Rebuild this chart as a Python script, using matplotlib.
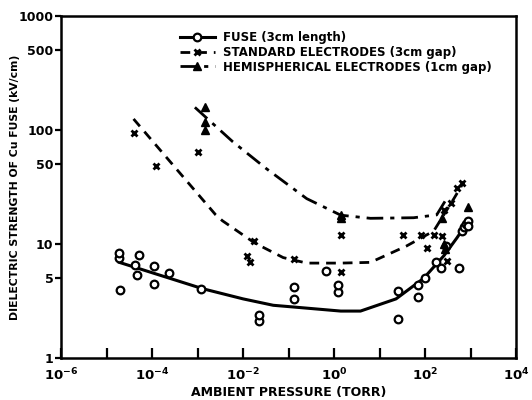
import matplotlib
matplotlib.use('Agg')
import matplotlib.pyplot as plt
from matplotlib.ticker import FixedLocator, NullFormatter, NullLocator

# Fuse (3 cm length) - open circles
fuse_p = [1.9e-5, 1.9e-5, 5.2e-5, 4.3e-5, 4.6e-5, 1.1e-4, 1.1e-4, 2.4e-4, 2.0e-5, 1.2e-3,
          2.2e-2, 2.2e-2, 0.13, 0.13, 0.65, 1.2, 1.2, 25, 25, 70, 70, 100, 170, 220,
          550, 290, 650, 700, 800, 900, 900]
fuse_e = [7.5, 8.3, 8.0, 6.6, 5.3, 6.4, 4.5, 5.6, 3.96, 4.0,
          2.1, 2.4, 4.2, 3.3, 5.8, 3.8, 4.4, 3.9, 2.2, 3.4, 4.4, 5.0, 6.9, 6.2,
          6.2, 9.6, 13, 14, 15, 16, 14.5]

# Standard electrodes (3 cm gap) - crosses
std_p = [3.9e-5, 1.2e-4, 1.0e-3, 1.7e-2, 1.2e-2, 1.4e-2, 0.13, 1.4, 1.4, 32, 80,
         110, 155, 235, 300, 370, 500, 650, 260]
std_e = [94, 48, 64, 10.6, 7.9, 7.0, 7.4, 5.7, 12, 12, 12,
         9.3, 12, 11.8, 7.1, 22.8, 31, 34, 20]

# Hemispherical electrodes (1 cm gap) - filled triangles
hemi_p = [1.45e-3, 1.45e-3, 1.45e-3, 1.4, 1.4, 235, 260, 270, 900]
hemi_e = [158, 118, 100, 18, 17, 17, 10, 9, 21]

# fitted curves
fuse_curve_p = [1.9e-5, 1.3e-3, 1e-2, 4.6e-2, 0.13, 1.4, 3.8, 23, 93, 260, 500, 830]
fuse_curve_e = [6.9, 4.05, 3.3, 2.9, 2.8, 2.58, 2.58, 3.3, 5.0, 7.9, 11.3, 15.2]
std_curve_p = [3.9e-5, 2.5e-3, 3.5e-3, 1.8e-2, 7.6e-2, 0.25, 1.4, 6.3, 39, 155, 430, 710]
std_curve_e = [125, 18, 16, 10.2, 7.6, 6.8, 6.8, 6.9, 9.6, 13, 25, 35]
hemi_curve_p = [8.7e-4, 5.9e-3, 3.2e-2, 0.25, 1.4, 6.3, 56, 180, 280]
hemi_curve_e = [158, 79, 46, 25, 17.9, 16.8, 17, 18, 24]

yticks = [1, 5, 10, 50, 100, 500, 1000]
xlabels = {1e-6: '10$^{-6}$', 1e-4: '10$^{-4}$', 1e-2: '10$^{-2}$',
           1e0: '10$^{0}$', 1e2: '10$^{2}$', 1e4: '10$^{4}$'}

plt.rcParams['font.family'] = ['Liberation Sans Narrow', 'DejaVu Sans']
plt.rcParams['font.weight'] = 'bold'
plt.rcParams['mathtext.fontset'] = 'custom'
plt.rcParams['mathtext.rm'] = 'Liberation Sans Narrow:bold'
plt.rcParams['mathtext.default'] = 'rm'

fig = plt.figure(figsize=(5.32, 4.0), dpi=100)
ax = fig.add_axes([0.115, 0.105, 0.855, 0.855])

ax.plot(fuse_curve_p, fuse_curve_e, '-', color='black', lw=2.2)
ax.plot(std_curve_p, std_curve_e, color='black', lw=2.0, dashes=(3.5, 2.5))
ax.plot(hemi_curve_p, hemi_curve_e, color='black', lw=2.0, dashes=(6, 2.5, 1.5, 2.5))

ax.plot(fuse_p, fuse_e, 'o', mfc='white', mec='black', mew=1.6, ms=5.5)
ax.plot(std_p, std_e, 'x', color='black', mew=2.0, ms=5)
ax.plot(hemi_p, hemi_e, '^', color='black', ms=6)

# legend proxies
h1, = ax.plot([], [], '-o', color='black', lw=2.2, mfc='white', mew=1.6, ms=5.5)
h2, = ax.plot([], [], 'x', color='black', lw=2.0, mew=2.0, ms=5, ls=(0, (3.5, 2.5)))
h3, = ax.plot([], [], '^', color='black', lw=2.0, ms=6, ls=(0, (6, 2.5, 1.5, 2.5)))
ax.legend([h1, h2, h3],
          ['FUSE (3cm length)', 'STANDARD ELECTRODES (3cm gap)',
           'HEMISPHERICAL ELECTRODES (1cm gap)'],
          loc='upper left', bbox_to_anchor=(0.25, 0.97), frameon=False,
          fontsize=8.5, handlelength=3.0, handletextpad=0.7, labelspacing=0.15,
          borderaxespad=0)

ax.set_xscale('log')
ax.set_yscale('log')
ax.set_xlim(1e-6, 1e4)
ax.set_ylim(1, 1000)

ax.xaxis.set_major_locator(FixedLocator([10.0 ** k for k in range(-6, 5)]))
ax.xaxis.set_minor_locator(NullLocator())
ax.set_xticklabels([xlabels.get(10.0 ** k, '') for k in range(-6, 5)])
ax.yaxis.set_major_locator(FixedLocator(yticks))
ax.yaxis.set_minor_locator(NullLocator())
ax.yaxis.set_minor_formatter(NullFormatter())
ax.set_yticklabels([str(v) for v in yticks])

ax.tick_params(axis='x', direction='in', length=7, width=1.6, labelsize=9.5, pad=6)
ax.tick_params(axis='y', direction='out', length=4, width=1.6, labelsize=9, pad=1.5)
for s in ax.spines.values():
    s.set_linewidth(1.8)

ax.set_xlabel('AMBIENT PRESSURE (TORR)', fontsize=9, fontweight='bold', labelpad=2)
ax.set_ylabel('DIELECTRIC STRENGTH OF Cu FUSE (kV/cm)', fontsize=7.8,
              fontweight='bold')
ax.yaxis.set_label_coords(-0.09, 0.5)

fig.savefig('out.png', dpi=100)
